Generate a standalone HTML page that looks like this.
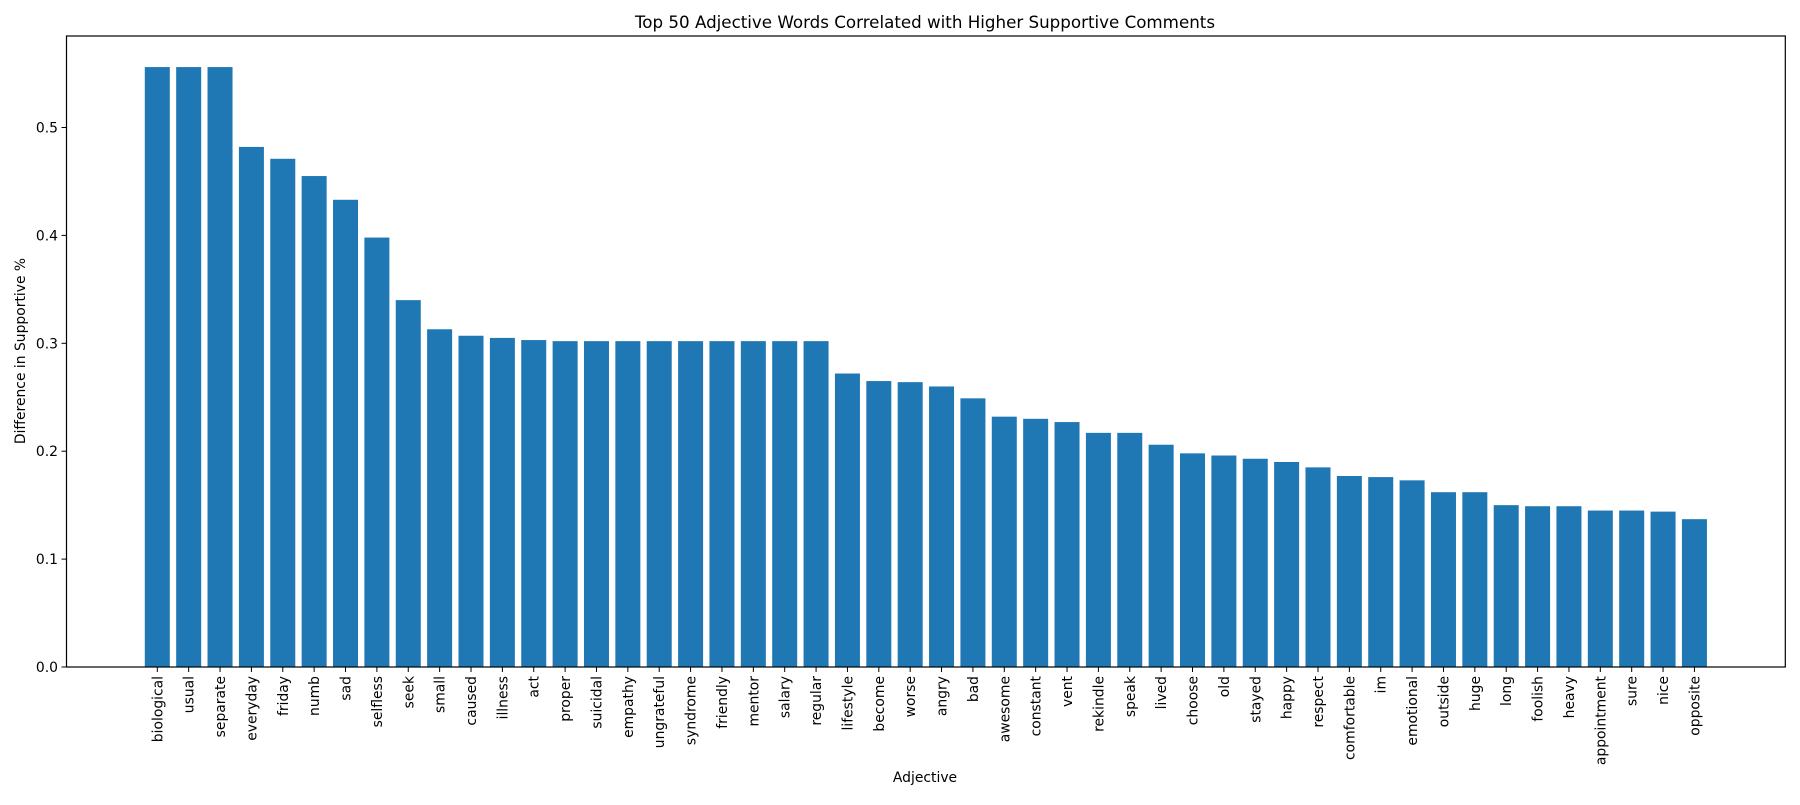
<!DOCTYPE html>
<html><head><meta charset="utf-8"><style>
body{margin:0;background:#fff}
svg text{font-family:"DejaVu Sans","Liberation Sans",sans-serif;fill:#000}
</style></head><body>
<svg id="chart" width="1800" height="800">
<rect x="0" y="0" width="1800" height="800" fill="#fff"/>
<text x="925" y="28" text-anchor="middle" font-size="16.7">Top 50 Adjective Words Correlated with Higher Supportive Comments</text>
<text x="925" y="782" text-anchor="middle" font-size="13.9">Adjective</text>
<text transform="translate(25,351) rotate(-90)" text-anchor="middle" font-size="13.9">Difference in Supportive %</text>
<g id="bars"></g><g id="xt"></g><g id="yt"></g>
<rect x="66.5" y="36" width="1718.8" height="631" fill="none" stroke="#000" stroke-width="1.2"/>
</svg>
<script>
const categories=["biological","usual","separate","everyday","friday","numb","sad","selfless","seek","small","caused","illness","act","proper","suicidal","empathy","ungrateful","syndrome","friendly","mentor","salary","regular","lifestyle","become","worse","angry","bad","awesome","constant","vent","rekindle","speak","lived","choose","old","stayed","happy","respect","comfortable","im","emotional","outside","huge","long","foolish","heavy","appointment","sure","nice","opposite"];
const values=[0.556,0.556,0.556,0.482,0.471,0.455,0.433,0.398,0.340,0.313,0.307,0.305,0.303,0.302,0.302,0.302,0.302,0.302,0.302,0.302,0.302,0.302,0.272,0.265,0.264,0.260,0.249,0.232,0.230,0.227,0.217,0.217,0.206,0.198,0.196,0.193,0.190,0.185,0.177,0.176,0.173,0.162,0.162,0.150,0.149,0.149,0.145,0.145,0.144,0.137];
const yTicks=[0.0,0.1,0.2,0.3,0.4,0.5];
const NS="http://www.w3.org/2000/svg";
const x0=157.3,step=31.37,bw=25,yBase=667,yPer=1079;
const xs=i=>x0+i*step, ys=v=>yBase-v*yPer;
const bars=document.getElementById('bars'),xt=document.getElementById('xt'),yt=document.getElementById('yt');
categories.forEach((c,i)=>{
 const r=document.createElementNS(NS,'rect');
 
 
 r.setAttribute('x',xs(i)-bw/2);r.setAttribute('y',ys(values[i]));
 r.setAttribute('width',bw);r.setAttribute('height',values[i]*yPer);r.setAttribute('fill','#1f77b4');
 bars.appendChild(r);
 const t=document.createElementNS(NS,'line');
 
 
 t.setAttribute('x1',xs(i));t.setAttribute('x2',xs(i));t.setAttribute('y1',667);t.setAttribute('y2',672);t.setAttribute('stroke','#000');
 xt.appendChild(t);
 const l=document.createElementNS(NS,'text');
 
 
 l.setAttribute('transform','translate('+(xs(i)+5)+',676) rotate(-90)');
 l.setAttribute('text-anchor','end');l.setAttribute('font-size','13.9');
 l.textContent=c;xt.appendChild(l);
});
yTicks.forEach(v=>{
 const t=document.createElementNS(NS,'line');
 
 
 t.setAttribute('x1',61.5);t.setAttribute('x2',66.5);t.setAttribute('y1',ys(v));t.setAttribute('y2',ys(v));t.setAttribute('stroke','#000');
 yt.appendChild(t);
 const l=document.createElementNS(NS,'text');
 
 
 l.setAttribute('x',58);l.setAttribute('y',ys(v)+5);l.setAttribute('text-anchor','end');l.setAttribute('font-size','13.9');
 l.textContent=v.toFixed(1);yt.appendChild(l);
});
</script>
</body></html>
